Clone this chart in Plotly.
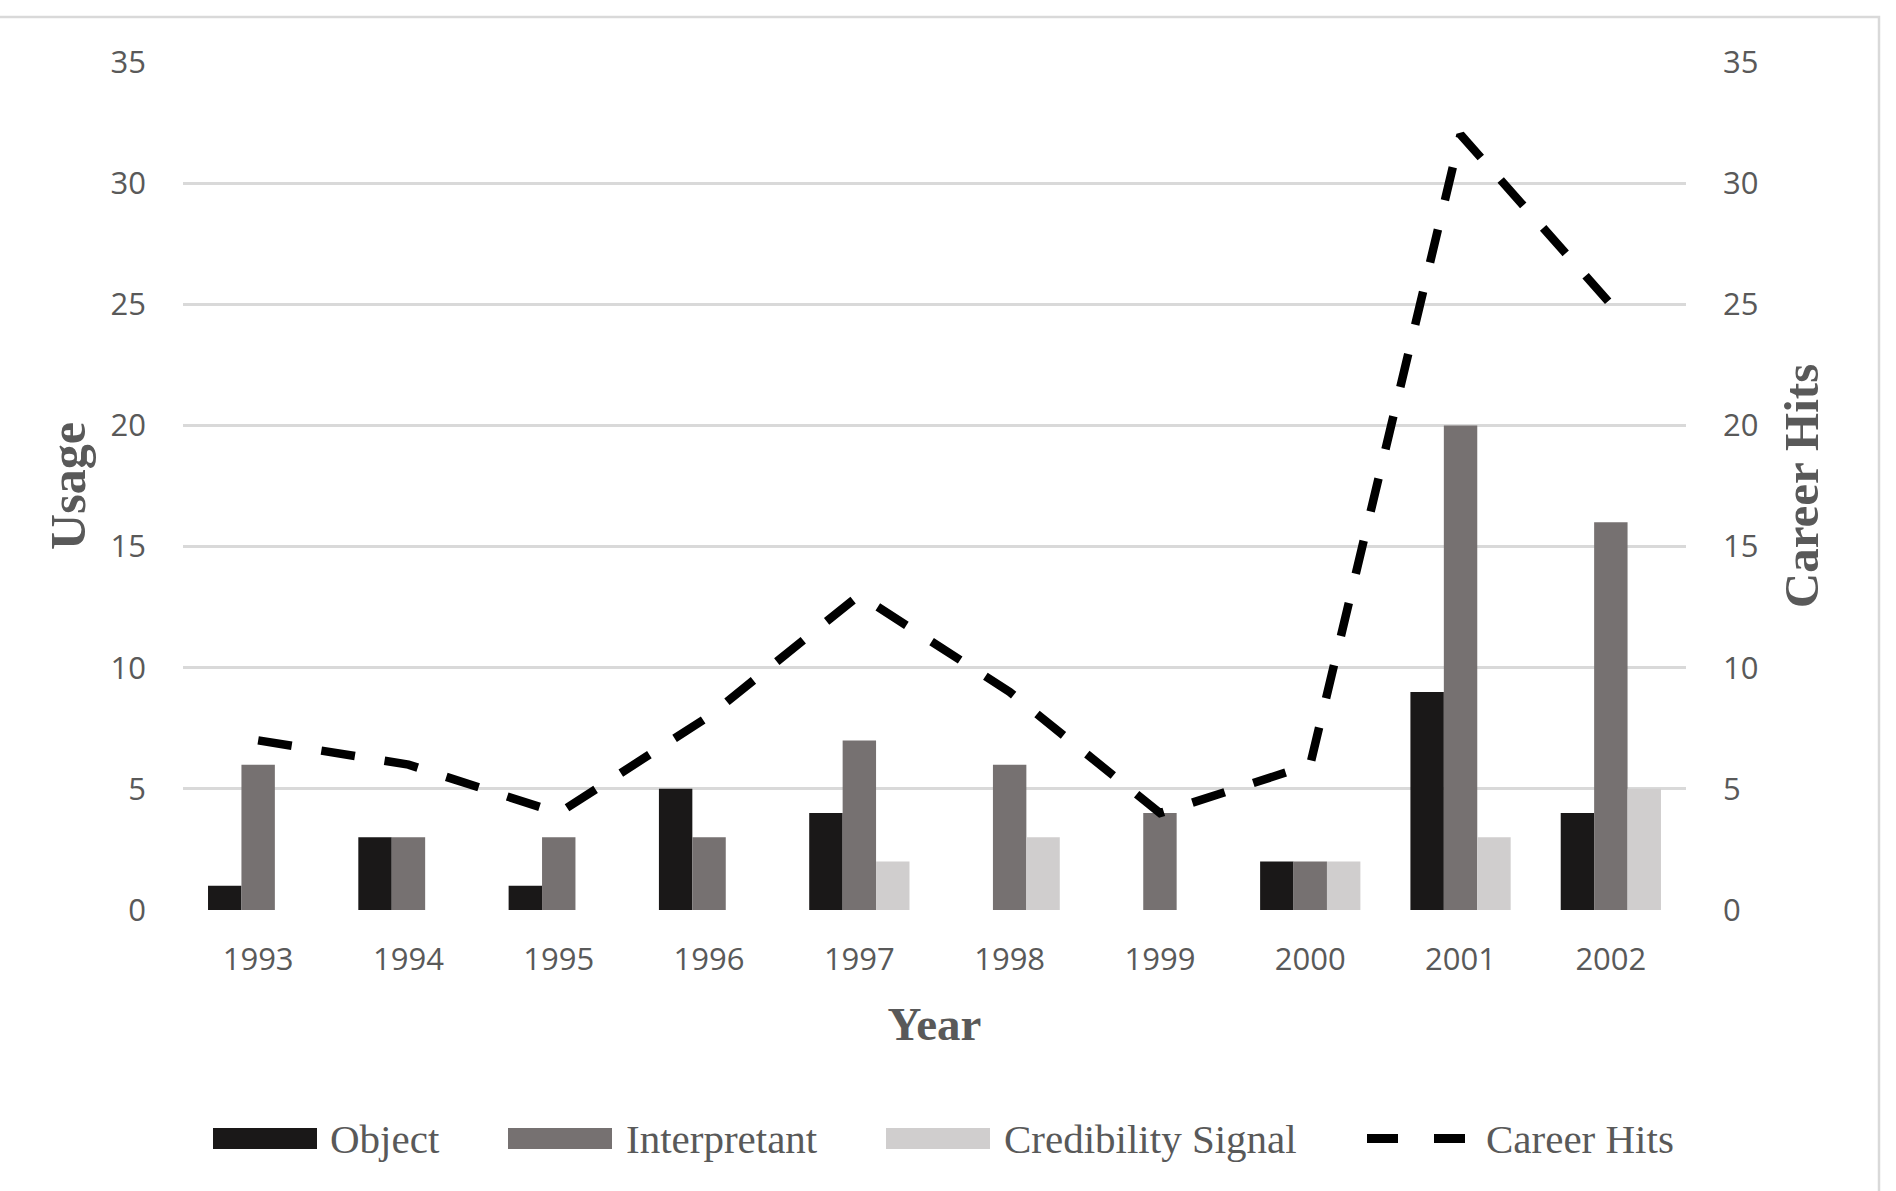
import plotly.graph_objects as go

years = ["1993", "1994", "1995", "1996", "1997", "1998", "1999", "2000", "2001", "2002"]
object_vals = [1, 3, 1, 5, 4, 0, 0, 2, 9, 4]
interpretant_vals = [6, 3, 3, 3, 7, 6, 4, 2, 20, 16]
credibility_vals = [0, 0, 0, 0, 2, 3, 0, 2, 3, 5]
career_hits = [7, 6, 4, 8, 13, 9, 4, 6, 32, 25]
y_ticks = [0, 5, 10, 15, 20, 25, 30, 35]

series_names = ["Object", "Interpretant", "Credibility Signal", "Career Hits"]
series_colors = ["#1a1818", "#767171", "#d0cece", "#000000"]

TXT = "#595959"
W, H = 1896, 1191
L, R, T, B = 183, 210, 62, 281
pw, ph = W - L - R, H - T - B


def px(x):
    return (x - L) / pw


def py(y):
    return (H - B - y) / ph


fig = go.Figure()
for name, vals, col in zip(series_names[:3], [object_vals, interpretant_vals, credibility_vals], series_colors[:3]):
    fig.add_trace(go.Bar(x=years, y=vals, name=name, marker=dict(color=col, line=dict(width=0)),
                         showlegend=False))

fig.add_trace(go.Scatter(x=years, y=career_hits, name=series_names[3], yaxis="y2", mode="lines",
                         line=dict(color=series_colors[3], width=8.5, dash="34px,30px"),
                         showlegend=False))

tickfont = dict(family="Open Sans", size=31, color=TXT)
titlefont_family = "Liberation Serif"

fig.update_layout(
    width=W, height=H,
    margin=dict(l=L, r=R, t=T, b=B, autoexpand=False),
    paper_bgcolor="white", plot_bgcolor="white",
    barmode="group", bargap=0.333, bargroupgap=0,
    showlegend=False,
    xaxis=dict(type="category", tickfont=tickfont, showgrid=False, zeroline=False,
               showline=False, ticks="", ticklabelstandoff=28,
               title=dict(text="<b>Year</b>", font=dict(family=titlefont_family, size=47, color=TXT), standoff=29)),
    yaxis=dict(range=[0, 35], tickvals=y_ticks, tickfont=tickfont, showgrid=True,
               gridcolor="#d9d9d9", gridwidth=3, zeroline=False, showline=False,
               ticks="", ticklabelstandoff=36,
               title=dict(text="<b>Usage</b>", font=dict(family=titlefont_family, size=50, color=TXT), standoff=9)),
    yaxis2=dict(range=[0, 35], tickvals=y_ticks, tickfont=tickfont, overlaying="y", side="right",
                showgrid=False, zeroline=False, showline=False, ticks="", ticklabelstandoff=36,
                title=dict(text="<b>Career Hits</b>", font=dict(family=titlefont_family, size=49, color=TXT), standoff=26)),
)

# outer chart border (partially cropped like the reference)
fig.add_shape(type="rect", xref="paper", yref="paper",
              x0=px(-10), x1=px(1879), y0=py(1200), y1=py(17),
              line=dict(color="#d9d9d9", width=2.5), fillcolor="rgba(0,0,0,0)", layer="below")

# custom legend
leg_y = 1138.5
swatches = [(213, 317, 328), (508, 612, 624), (886, 990, 1002)]
for (x0, x1, tx), name, col in zip(swatches, series_names[:3], series_colors[:3]):
    fig.add_shape(type="rect", xref="paper", yref="paper", x0=px(x0), x1=px(x1),
                  y0=py(leg_y + 10.5), y1=py(leg_y - 10.5), fillcolor=col, line=dict(width=0))
    fig.add_annotation(xref="paper", yref="paper", x=px(tx), y=py(leg_y), text=name,
                       showarrow=False, xanchor="left", yanchor="middle",
                       font=dict(family="Liberation Serif", size=41, color=TXT))
for (x0, x1) in [(1367, 1398), (1434, 1465)]:
    fig.add_shape(type="line", xref="paper", yref="paper", x0=px(x0), x1=px(x1),
                  y0=py(leg_y), y1=py(leg_y), line=dict(color=series_colors[3], width=9))
fig.add_annotation(xref="paper", yref="paper", x=px(1484), y=py(leg_y), text=series_names[3],
                   showarrow=False, xanchor="left", yanchor="middle",
                   font=dict(family="Liberation Serif", size=41, color=TXT))

fig.write_html("out.html")
